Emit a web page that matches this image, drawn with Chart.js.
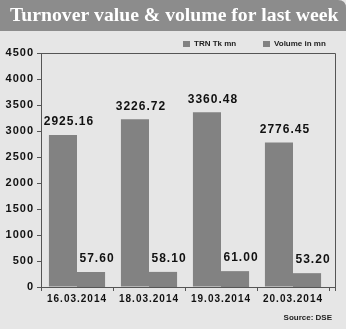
<!DOCTYPE html>
<html><head><meta charset="utf-8">
<script src="https://cdn.jsdelivr.net/npm/chart.js@4"></script>
<style>html,body{margin:0;padding:0;background:#e6e6e6;}#w{width:346px;height:329px;position:relative;}</style>
</head><body><div id="w"><canvas id="c"></canvas></div>
<script>
const titleText = "Turnover value & volume for last week";
const sourceText = "Source: DSE";
const categories = ["16.03.2014", "18.03.2014", "19.03.2014", "20.03.2014"];
const turnover = [2925.16, 3226.72, 3360.48, 2776.45];
const volume = [57.60, 58.10, 61.00, 53.20];
const seriesNames = ["TRN Tk mn", "Volume in mn"];
const yTicks = [0, 500, 1000, 1500, 2000, 2500, 3000, 3500, 4000, 4500];

const sans = "'Liberation Sans',Arial,sans-serif";

const deco = {
  id: 'deco',
  beforeDraw(chart) {
    const ctx = chart.ctx;
    ctx.letterSpacing = '0px';
    ctx.fillStyle = '#e6e6e6';
    ctx.fillRect(0, 0, chart.width, chart.height);
    // banner
    ctx.fillStyle = '#8c8c8c';
    ctx.beginPath();
    ctx.moveTo(0, 0);
    ctx.lineTo(338, 0);
    ctx.quadraticCurveTo(346, 0, 346, 8);
    ctx.lineTo(346, 31);
    ctx.lineTo(0, 31);
    ctx.closePath();
    ctx.fill();
    ctx.fillStyle = '#ffffff';
    ctx.font = "bold 19.7px 'Liberation Serif','Times New Roman',serif";
    ctx.textBaseline = 'middle';
    ctx.textAlign = 'left';
    ctx.fillText(titleText, 10, 16);
    ctx.letterSpacing = '1px';
  },
  afterDraw(chart) {
    const ctx = chart.ctx;
    const a = chart.chartArea;
    const rightEdge = a.right + 6;
    ctx.save();
    ctx.strokeStyle = '#555';
    ctx.lineWidth = 1;
    ctx.beginPath();
    ctx.moveTo(a.left + 0.5, a.bottom);
    ctx.lineTo(a.left + 0.5, a.top + 0.5);
    ctx.lineTo(rightEdge + 0.5, a.top + 0.5);
    ctx.lineTo(rightEdge + 0.5, a.bottom + 4);
    ctx.moveTo(a.right, a.bottom + 0.5);
    ctx.lineTo(rightEdge, a.bottom + 0.5);
    ctx.stroke();
    // legend
    ctx.letterSpacing = '0px';
    ctx.font = "bold 8px " + sans;
    ctx.textBaseline = 'middle';
    ctx.textAlign = 'left';
    const lx = [183, 263];
    const y = 44;
    chart.data.datasets.forEach((ds, di) => {
      ctx.fillStyle = ds.backgroundColor;
      ctx.fillRect(lx[di], y - 3, 7, 6);
      ctx.fillStyle = '#222';
      ctx.fillText(ds.label, lx[di] + 11, y);
    });
    // source
    ctx.textAlign = 'right';
    ctx.fillText(sourceText, 332, 318);
    // value labels
    ctx.letterSpacing = '1px';
    ctx.font = "bold 12px " + sans;
    ctx.textAlign = 'center';
    ctx.textBaseline = 'middle';
    ctx.fillStyle = '#111';
    chart.data.datasets.forEach((ds, di) => {
      const meta = chart.getDatasetMeta(di);
      meta.data.forEach((el, i) => {
        const v = ds.data[i];
        ctx.fillText(v.toFixed(2), el.x + 6, el.y - 13);
      });
    });
    ctx.restore();
  }
};

new Chart(document.getElementById('c'), {
  type: 'bar',
  data: {
    labels: categories,
    datasets: [
      { label: seriesNames[0], data: turnover, backgroundColor: '#828282', yAxisID: 'y' },
      { label: seriesNames[1], data: volume, backgroundColor: '#828282', yAxisID: 'y1' }
    ]
  },
  options: {
    responsive: true,
    maintainAspectRatio: false,
    animation: false,
    layout: { padding: { top: 53, left: 0, right: 17, bottom: 0 } },
    datasets: { bar: { categoryPercentage: 0.78, barPercentage: 1.0 } },
    plugins: { legend: { display: false }, title: { display: false }, tooltip: { enabled: false } },
    scales: {
      x: {
        offset: true,
        grid: { offset: true, drawOnChartArea: false, color: '#555', tickLength: 4, tickColor: '#555' },
        border: { color: '#555' },
        ticks: { color: '#111', font: { family: sans, size: 10, weight: 'bold' }, padding: 2, maxRotation: 0 },
        afterFit(s) { s.height = 42; }
      },
      y: {
        min: 0, max: 4500,
        afterBuildTicks(s) { s.ticks = yTicks.map(v => ({ value: v })); },
        grid: { drawOnChartArea: false, tickLength: 4, tickColor: '#555' },
        border: { color: '#555' },
        ticks: { color: '#111', font: { family: sans, size: 11, weight: 'bold' }, padding: 3, callback: (v) => String(v) },
        afterFit(s) { s.width = 41; }
      },
      y1: { display: false, min: 0, max: 900 }
    }
  },
  plugins: [deco]
});
</script></body></html>
